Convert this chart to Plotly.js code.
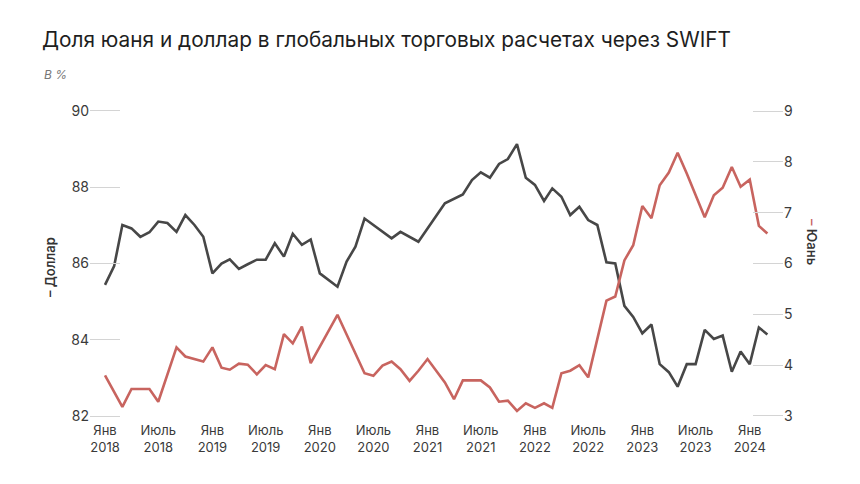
<!DOCTYPE html>
<html>
<head>
<meta charset="utf-8">
<script src="https://cdn.plot.ly/plotly-3.0.1.min.js"></script>
<style>
  html, body { margin: 0; padding: 0; background: #fff; }
  #chart { width: 860px; height: 484px; }
</style>
</head>
<body>
<div id="chart"></div>
<script>
// months counted from Jan 2018 (0 = Янв 2018)
const dollarMonths = [0,1,2,3,4,5,6,7,8,9,10,11,12,13,14,15,16,17,18,19,20,21,22,23,24,
    26,27,28,29,32,33,35,38,
    40,41,42,43,44,45,46,47,48,49,50,51,52,53,54,55,56,57,58,59,60,61,62,63,64,65,66,67,68,69,70,71,72,73,74];
const dollarValues = [85.44,85.93,87.01,86.92,86.70,86.82,87.10,87.06,86.83,87.27,87.01,86.70,
    85.74,86.00,86.11,85.86,85.98,86.10,86.10,86.53,86.18,86.78,86.49,86.63,85.74,
    85.39,86.05,86.44,87.18,86.66,86.83,86.57,87.58,
    87.81,88.19,88.39,88.25,88.61,88.74,89.13,88.25,88.06,87.64,87.97,87.75,87.27,87.49,87.14,87.01,
    86.03,86.00,84.89,84.60,84.17,84.40,83.36,83.15,82.77,83.36,83.36,84.26,84.02,84.11,83.16,83.69,
    83.36,84.32,84.14];

const yuanMonths = [0,2,3,5,6,8,9,11,
    12,13,14,15,16,17,18,19,20,21,22,23,
    26,
    29,30,31,32,33,34,35,36,37,38,39,40,
    42,43,44,45,46,47,48,49,50,51,52,53,54,
    56,57,58,59,60,61,62,63,64,65,66,67,68,69,70,71,72,73,74];
const yuanValues = [3.80,3.18,3.53,3.53,3.28,4.35,4.17,4.07,
    4.35,3.95,3.91,4.03,4.01,3.82,4.00,3.92,4.61,4.43,4.76,4.04,
    4.99,
    3.84,3.79,3.99,4.07,3.92,3.69,3.89,4.12,3.89,3.66,3.33,3.70,
    3.70,3.56,3.28,3.30,3.10,3.25,3.16,3.25,3.16,3.84,3.89,4.00,3.76,
    5.27,5.35,6.06,6.36,7.13,6.89,7.54,7.79,8.18,7.77,7.36,6.91,7.34,7.49,7.90,7.51,7.65,6.74,6.59];

const tickMonths = [0,6,12,18,24,30,36,42,48,54,60,66,72];
const tickLabels = ['Янв<br>2018','Июль<br>2018','Янв<br>2019','Июль<br>2019','Янв<br>2020','Июль<br>2020',
    'Янв<br>2021','Июль<br>2021','Янв<br>2022','Июль<br>2022','Янв<br>2023','Июль<br>2023','Янв<br>2024'];
const dollarTicks = [82,84,86,88,90];
const yuanTicks = [3,4,5,6,7,8,9];

const toDate = m => {
    const y = 2018 + Math.floor(m / 12);
    const mo = (m % 12) + 1;
    return y + '-' + String(mo).padStart(2, '0') + '-01';
};

const DARK = '#474747';
const RED = '#c8645f';
const FONT = 'Inter, "Noto Sans", sans-serif';

const traces = [
    { x: dollarMonths.map(toDate), y: dollarValues, type: 'scatter', mode: 'lines', name: 'Доллар',
      line: { color: DARK, width: 2.6 }, yaxis: 'y', hoverinfo: 'x+y' },
    { x: yuanMonths.map(toDate), y: yuanValues, type: 'scatter', mode: 'lines', name: 'Юань',
      line: { color: RED, width: 2.6 }, yaxis: 'y2', hoverinfo: 'x+y' }
];

const axisCommon = {
    showgrid: false, zeroline: false, showline: false,
    ticks: 'inside', ticklen: 30, tickwidth: 1, tickcolor: '#d4d4d4',
    tickfont: { family: FONT, size: 14, color: '#3a3a3a' }, fixedrange: true
};

const layout = {
    width: 860, height: 484,
    margin: { l: 90, r: 77, t: 105, b: 63 },
    paper_bgcolor: '#fff', plot_bgcolor: 'rgba(0,0,0,0)',
    showlegend: false,
    title: {
        text: 'Доля юаня и доллар в глобальных торговых расчетах через SWIFT',
        font: { family: FONT, size: 20.8, color: '#1e1e1e', weight: 400 },
        x: 42 / 860, xanchor: 'left', xref: 'container',
        y: 1 - 40 / 484, yanchor: 'middle', yref: 'container'
    },
    xaxis: {
        type: 'date', range: ['2017-11-11', '2024-04-23'],
        showgrid: false, zeroline: false, showline: false, ticks: '',
        tickvals: tickMonths.map(toDate), ticktext: tickLabels,
        tickfont: { family: FONT, size: 13, color: '#3a3a3a' }, fixedrange: true
    },
    yaxis: Object.assign({}, axisCommon, {
        range: [81.869, 90.157], tickvals: dollarTicks, side: 'left'
    }),
    yaxis2: Object.assign({}, axisCommon, {
        range: [2.901, 9.118], tickvals: yuanTicks, side: 'right', overlaying: 'y'
    }),
    annotations: [
        { text: 'В %', xref: 'paper', yref: 'paper', x: -48 / 693, y: 1 + (105 - 75) / 316,
          xanchor: 'left', yanchor: 'middle', showarrow: false,
          font: { family: FONT, size: 12, color: '#777', style: 'italic' } },
        { text: '– Доллар', xref: 'paper', yref: 'paper', x: -40 / 693, y: (421 - 267) / 316,
          xanchor: 'center', yanchor: 'middle', textangle: -90, showarrow: false,
          font: { family: FONT, size: 13, color: '#333', weight: 600 } },
        { text: '<span style="color:' + RED + '">–</span> Юань', xref: 'paper', yref: 'paper',
          x: (812 - 90) / 693, y: (421 - 242) / 316,
          xanchor: 'center', yanchor: 'middle', textangle: 90, showarrow: false,
          font: { family: FONT, size: 13, color: '#333', weight: 600 } }
    ]
};

Plotly.newPlot('chart', traces, layout, { displayModeBar: false, staticPlot: true });
</script>
</body>
</html>
